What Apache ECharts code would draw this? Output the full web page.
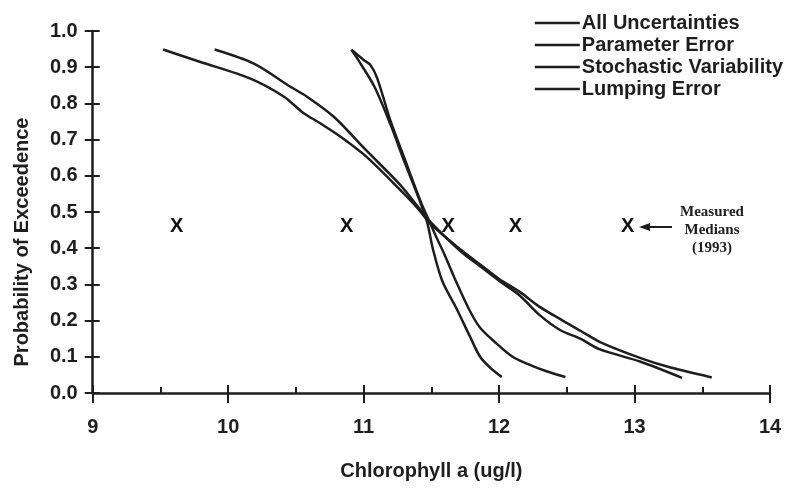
<!DOCTYPE html>
<html>
<head>
<meta charset="utf-8">
<script src="https://cdn.jsdelivr.net/npm/echarts@6/dist/echarts.min.js"></script>
<style>
html, body { margin: 0; padding: 0; background: #fff; }
#main { width: 793px; height: 493px; }
</style>
</head>
<body>
<div id="main"></div>
<script>
var seriesNames = ['All Uncertainties', 'Parameter Error', 'Stochastic Variability', 'Lumping Error'];

// [chlorophyll a, probability of exceedence]
var allUncertainties = [[9.52,0.949],[9.79,0.915],[10.16,0.869],[10.41,0.819],[10.55,0.775],[10.68,0.745],
	[10.83,0.708],[11.02,0.653],[11.27,0.561],[11.40,0.51],[11.50,0.465],[11.72,0.395],[11.86,0.355],
	[12.00,0.315],[12.15,0.28],[12.30,0.238],[12.47,0.20],[12.60,0.172],[12.75,0.14],[13.04,0.097],
	[13.24,0.073],[13.57,0.043]];
var parameterError = [[9.90,0.949],[10.19,0.91],[10.46,0.846],[10.58,0.819],[10.78,0.763],[11.02,0.67],
	[11.27,0.575],[11.40,0.515],[11.50,0.47],[11.72,0.39],[11.86,0.35],[12.00,0.31],[12.15,0.27],
	[12.30,0.215],[12.45,0.174],[12.60,0.15],[12.74,0.121],[13.04,0.087],[13.35,0.042]];
var stochasticVariability = [[10.91,0.948],[11.00,0.92],[11.05,0.906],[11.10,0.87],[11.20,0.75],[11.30,0.65],
	[11.42,0.53],[11.49,0.47],[11.55,0.42],[11.60,0.38],[11.68,0.31],[11.78,0.23],[11.86,0.18],
	[11.98,0.137],[12.10,0.10],[12.20,0.082],[12.35,0.06],[12.49,0.044]];
var lumpingError = [[10.91,0.948],[10.96,0.92],[11.08,0.846],[11.20,0.74],[11.30,0.64],[11.40,0.545],
	[11.47,0.47],[11.51,0.40],[11.58,0.31],[11.69,0.23],[11.78,0.16],[11.86,0.10],[11.94,0.068],[12.02,0.044]];

var measuredMedians = [[9.62,0.46],[10.875,0.46],[11.625,0.46],[12.12,0.46],[12.95,0.46]];

var font = "'Liberation Sans', Arial, sans-serif";
var ink = '#1e1e1e';

function curve(name, data) {
	return {
		name: name,
		type: 'line',
		data: data,
		smooth: 0.3,
		symbol: 'none',
		lineStyle: { color: ink, width: 2.5 },
		itemStyle: { color: ink }
	};
}

var chart = echarts.init(document.getElementById('main'));
chart.setOption({
	animation: false,
	backgroundColor: '#fff',
	grid: { left: 92.7, right: 23, top: 31, bottom: 100 },
	legend: {
		orient: 'vertical',
		right: 5,
		top: 8,
		icon: 'rect',
		itemWidth: 45,
		itemHeight: 2.5,
		itemGap: 2,
		data: seriesNames,
		textStyle: { fontFamily: font, fontSize: 20, fontWeight: 'bold', color: ink, padding: [0, 0, 0, -3] }
	},
	xAxis: [{
		type: 'value',
		min: 9, max: 14, interval: 1,
		name: 'Chlorophyll a (ug/l)',
		nameLocation: 'middle',
		nameGap: 68,
		nameTextStyle: { fontFamily: font, fontSize: 20, fontWeight: 'bold', color: ink },
		axisLine: { lineStyle: { color: ink, width: 2.5 } },
		axisTick: { length: 10, lineStyle: { color: ink, width: 2 } },
		axisLabel: { margin: 24, fontFamily: font, fontSize: 20, fontWeight: 'bold', color: ink },
		splitLine: { show: false }
	}, {
		type: 'value',
		min: 9, max: 14, interval: 1,
		position: 'top',
		offset: -362,
		axisLine: { show: false },
		axisTick: { length: 8, lineStyle: { color: ink, width: 2 } },
		minorTick: { show: true, splitNumber: 2, length: 6, lineStyle: { color: ink, width: 2 } },
		axisLabel: { show: false },
		splitLine: { show: false }
	}],
	yAxis: [{
		type: 'value',
		min: 0, max: 1, interval: 0.1,
		axisLine: { show: true, lineStyle: { color: ink, width: 2.5 } },
		axisTick: { show: true, length: 8, lineStyle: { color: ink, width: 2 } },
		axisLabel: {
			margin: 15, fontFamily: font, fontSize: 20, fontWeight: 'bold', color: ink,
			formatter: function (v) { return v.toFixed(1); }
		},
		splitLine: { show: false }
	}, {
		type: 'value',
		min: 0, max: 1, interval: 0.1,
		position: 'right',
		offset: -677.3,
		axisLine: { show: false },
		axisTick: { show: true, length: 7, lineStyle: { color: ink, width: 2 } },
		axisLabel: { show: false },
		splitLine: { show: false }
	}],
	series: [
		curve(seriesNames[0], allUncertainties),
		curve(seriesNames[1], parameterError),
		curve(seriesNames[2], stochasticVariability),
		curve(seriesNames[3], lumpingError),
		{
			name: 'Measured Medians',
			type: 'scatter',
			data: measuredMedians,
			symbolSize: 0,
			itemStyle: { color: ink, opacity: 1 },
			label: {
				show: true,
				position: 'inside',
				formatter: 'X',
				fontFamily: font, fontSize: 20, fontWeight: 'bold', color: '#111',
				textBorderWidth: 0, opacity: 1
			}
		}
	],
	graphic: [{
		type: 'text',
		x: 22, y: 242,
		rotation: Math.PI / 2,
		style: {
			text: 'Probability of Exceedence',
			fontFamily: font, fontSize: 20, fontWeight: 'bold', fill: ink,
			align: 'center', verticalAlign: 'middle'
		}
	}, {
		type: 'line',
		shape: { x1: 645, y1: 227, x2: 672, y2: 227 },
		style: { stroke: ink, lineWidth: 2 }
	}, {
		type: 'polygon',
		shape: { points: [[639, 227], [650, 223], [650, 231]] },
		style: { fill: ink }
	}, {
		type: 'text',
		x: 712, y: 203,
		style: {
			text: 'Measured\nMedians\n(1993)',
			fontFamily: "'Liberation Serif', 'DejaVu Serif', serif",
			fontSize: 15, fontWeight: 'bold', fill: ink,
			lineHeight: 18, align: 'center'
		}
	}]
});
</script>
</body>
</html>
